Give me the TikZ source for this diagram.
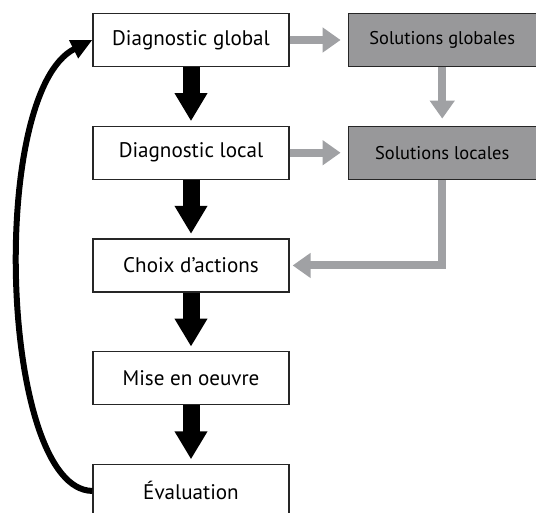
\documentclass[tikz,border=0pt]{standalone}
\usepackage{fontspec}
\setmainfont{PT Sans}
\usepackage{tikz}
\usetikzlibrary{positioning, arrows.meta}
\definecolor{SolGray}{RGB}{152,152,154}
\definecolor{LinkGray}{RGB}{160,161,164}
\tikzset{
    stepnode/.style={
        draw=black!85, line width=0.7pt, fill=white, minimum width=3.92cm, minimum height=1.06cm, font=\fontsize{12}{14}\selectfont
    },
    solnode/.style={
        draw=black!85, line width=0.7pt, fill=SolGray, minimum width=3.76cm, minimum height=1.06cm, font=\fontsize{10.5}{12}\selectfont
    },
    bigarrow/.style={
        line width=0.34cm, -{Triangle[width=0.62cm, length=0.56cm]}, shorten >=0.09cm
    },
    grayarrow/.style={
        line width=0.16cm, LinkGray, -{Triangle[width=0.48cm, length=0.36cm]}, shorten >=0.14cm
    },
    looparrow/.style={
        line width=0.12cm, -{Triangle[width=0.38cm, length=0.42cm]}
    }
}
\begin{document}
\begin{tikzpicture}
    \useasboundingbox (0,0) rectangle (10.72,10.24);
    % left column
    \node[stepnode] (diagglobal) at (3.82,9.44) {Diagnostic global};
    \node[stepnode, below=1.17cm of diagglobal] (diaglocal) {Diagnostic local};
    \node[stepnode, below=1.17cm of diaglocal] (choix) {Choix d’actions};
    \node[stepnode, below=1.17cm of choix] (miseoeuvre) {Mise en oeuvre};
    \node[stepnode, below=1.17cm of miseoeuvre] (evaluation) {Évaluation};
    % right column
    \node[solnode, right=1.16cm of diagglobal] (solglobal) {Solutions globales};
    \node[solnode, right=1.16cm of diaglocal] (sollocal) {Solutions locales};
    % arrows
    \draw[bigarrow] (diagglobal) -- (diaglocal);
    \draw[bigarrow] (diaglocal) -- (choix);
    \draw[bigarrow] (choix) -- (miseoeuvre);
    \draw[bigarrow] (miseoeuvre) -- (evaluation);
    \draw[grayarrow] (diagglobal) -- (solglobal);
    \draw[grayarrow] (diaglocal) -- (sollocal);
    \draw[grayarrow] (solglobal) -- (sollocal);
    \draw[grayarrow, shorten >=0.06cm] (sollocal.south) |- (choix.east);
    \draw[looparrow] (evaluation.west) .. controls (0,0.44) and (-0.25,8.4) .. (diagglobal.west);
\end{tikzpicture}
\end{document}
